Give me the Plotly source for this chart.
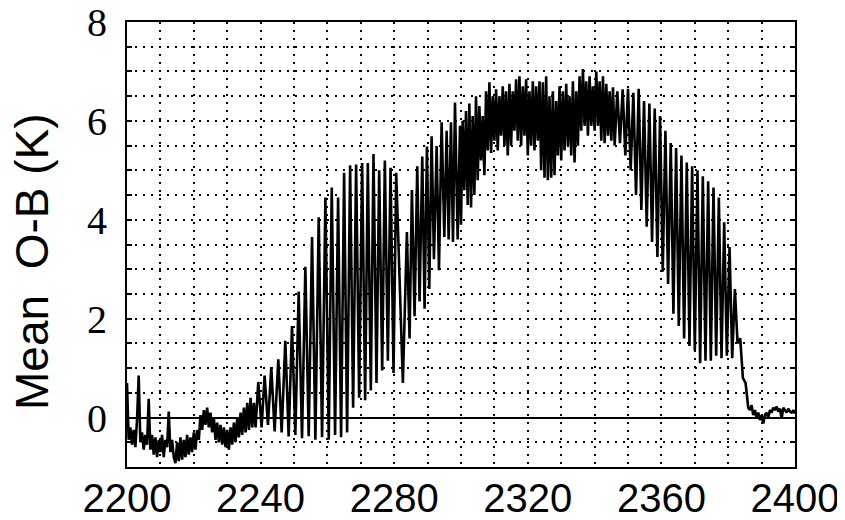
import plotly.graph_objects as go

# ---- data (wavenumber in cm-1, mean O-B in K) ----
# window region, uniform 0.5 cm-1 channels starting at 2200.0
wn_window_start, wn_window_step = 2200.0, 0.5
omb_window = [0.70, -0.45, -0.20, -0.55, -0.25, -0.60, -0.05, 0.85, -0.50, -0.30,
              -0.65, -0.35, -0.55, 0.38, -0.65, -0.35, -0.75, -0.40, -0.80, -0.45,
              -0.70, -0.35, -0.80, -0.45, -0.60, 0.12, -0.70, -0.45, -0.80, -0.92,
              -0.50, -0.88, -0.40, -0.85, -0.45, -0.80, -0.35, -0.75, -0.40, -0.70,
              -0.30, -0.65, -0.25, -0.45, 0.05, -0.25, 0.15, -0.15, 0.20, -0.20,
              0.10, -0.30, 0.00, -0.45, -0.10, -0.50, -0.15, -0.55, -0.20, -0.60,
              -0.25, -0.65, -0.20, -0.55, -0.10, -0.50, 0.00, -0.40, 0.10, -0.35,
              0.20, -0.30, 0.30, -0.25, 0.40, -0.20, 0.30, -0.20]

# line structure (peaks / troughs) 2239-2283
wn_lines1 = [2239.3, 2240.3, 2241.2, 2242.2, 2243.2, 2244.2, 2245.3, 2246.3, 2247.4, 2248.4,
             2249.4, 2250.4, 2251.4, 2252.4, 2253.4, 2254.4, 2255.4, 2256.4, 2257.4, 2258.4,
             2259.4, 2260.4, 2261.3, 2262.3, 2263.2, 2264.1, 2265.0, 2265.9, 2266.8, 2267.7,
             2268.6, 2269.5, 2270.4, 2271.3, 2272.1, 2273.0, 2273.8, 2274.7, 2275.5, 2276.4,
             2277.2, 2278.1, 2278.9, 2279.8, 2280.6, 2282.6]
omb_lines1 = [0.72, -0.20, 0.85, -0.15, 1.02, -0.28, 1.18, -0.30, 1.55, -0.38,
              1.85, -0.35, 2.55, -0.42, 3.05, -0.38, 3.65, -0.45, 4.05, -0.40,
              4.45, -0.45, 4.65, -0.35, 4.45, -0.40, 4.95, -0.30, 5.10, 0.20,
              5.12, 0.40, 5.15, 0.35, 5.15, 0.55, 5.33, 0.70, 5.00, 0.95,
              5.20, 1.15, 5.05, 0.90, 4.95, 0.70]

# line structure 2283-2300
wn_lines2 = [2283.8, 2284.6, 2285.3, 2286.1, 2286.9, 2287.6, 2288.4, 2289.1, 2289.8, 2290.5,
             2291.2, 2291.9, 2292.7, 2293.4, 2294.2, 2295.0, 2295.7, 2296.3, 2297.0, 2297.6,
             2298.2, 2299.0, 2299.7]
omb_lines2 = [3.75, 1.60, 4.60, 2.05, 5.08, 2.35, 5.28, 2.20, 5.48, 2.60,
              5.69, 3.20, 5.49, 2.98, 5.97, 3.65, 5.80, 3.60, 5.97, 3.55,
              6.37, 3.60, 5.90]

# band centre, uniform 0.5 cm-1 channels starting at 2300.0
wn_core_start, wn_core_step = 2300.0, 0.5
omb_core = [3.90, 6.00, 4.60, 6.20, 4.30, 6.35, 4.25, 6.10, 4.50, 6.50,
            4.80, 6.30, 5.20, 6.10, 4.90, 6.60, 5.40, 6.78, 5.35, 6.50,
            5.60, 6.64, 5.40, 6.50, 5.70, 6.70, 5.50, 6.60, 5.30, 6.75,
            5.50, 6.60, 5.80, 6.84, 5.60, 6.90, 5.50, 6.70, 5.70, 6.84,
            5.30, 6.60, 5.50, 6.80, 5.40, 6.70, 5.60, 6.80, 5.00, 6.78,
            4.85, 6.90, 4.80, 6.50, 4.85, 6.60, 4.90, 6.40, 5.30, 6.70,
            5.20, 6.60, 5.40, 6.75, 5.50, 6.50, 5.30, 6.80, 5.16, 6.60,
            5.50, 6.90, 5.80, 7.05, 5.90, 6.80, 5.70, 6.90, 5.90, 6.70,
            5.80, 7.00, 5.90, 6.80, 5.60, 6.90, 5.55, 6.75, 5.70, 6.60,
            5.60, 6.68, 5.50]

# band edge, uniform 0.8 cm-1 channels starting at 2346.8
wn_edge_start, wn_edge_step = 2346.8, 0.8
omb_edge = [6.60, 5.55, 6.64, 5.30, 6.65, 5.00, 6.57, 4.50, 6.65, 4.20,
            6.40, 3.86, 6.35, 3.55, 6.25, 3.25, 6.10, 2.95, 5.80, 2.70,
            5.55, 2.10, 5.45, 1.85, 5.30, 1.60, 5.16, 1.45, 5.08, 1.35,
            5.00, 1.10, 4.88, 1.15, 4.78, 1.15, 4.65, 1.25, 4.45, 1.20,
            3.95, 1.25, 3.45, 1.20, 2.60, 1.50, 1.60, 0.80, 0.70, 0.20]

# tail, uniform 0.5 cm-1 channels starting at 2386.5
wn_tail_start, wn_tail_step = 2386.5, 0.5
omb_tail = [0.15, 0.25, 0.05, 0.15, 0.00, 0.10, -0.05, 0.05, -0.12, 0.05,
            0.10, 0.00, 0.15, 0.10, 0.20, 0.15, 0.22, 0.12, 0.18, -0.02,
            0.20, 0.15, 0.10, 0.18, 0.12, 0.10, 0.15, 0.08]

x_tick_vals = [2200, 2240, 2280, 2320, 2360, 2400]
x_tick_text = ["2200", "2240", "2280", "2320", "2360", "2400"]
y_tick_vals = [0, 2, 4, 6, 8]
y_tick_text = ["0", "2", "4", "6", "8"]
y_title = "Mean\u00a0 O-B (K)"


def grid(start, step, vals):
    return [round(start + step * i, 3) for i in range(len(vals))]


wn = (grid(wn_window_start, wn_window_step, omb_window) + wn_lines1 + wn_lines2
      + grid(wn_core_start, wn_core_step, omb_core)
      + grid(wn_edge_start, wn_edge_step, omb_edge)
      + grid(wn_tail_start, wn_tail_step, omb_tail))
omb = omb_window + omb_lines1 + omb_lines2 + omb_core + omb_edge + omb_tail

fig = go.Figure()
fig.add_trace(go.Scatter(x=wn, y=omb, mode="lines",
                         line=dict(color="black", width=2.6), showlegend=False))

dots = "2px,6px"
fig.update_xaxes(
    range=[2200, 2400], tickmode="array", tickvals=x_tick_vals, ticktext=x_tick_text,
    tickfont=dict(family="Liberation Sans", size=40, color="black"),
    showgrid=True, gridcolor="black", gridwidth=2, griddash=dots,
    minor=dict(dtick=10, tick0=2200, showgrid=True, gridcolor="black", gridwidth=2, griddash=dots),
    showline=True, linecolor="black", linewidth=2, mirror=True,
    ticks="", zeroline=False, automargin=False,
    ticklabeloverflow="allow", ticklabelstandoff=-5,
)
fig.update_yaxes(
    range=[-1, 8], tickmode="array", tickvals=y_tick_vals, ticktext=y_tick_text,
    tickfont=dict(family="Liberation Serif", size=40, color="black"),
    showgrid=True, gridcolor="black", gridwidth=2, griddash=dots,
    minor=dict(dtick=0.5, tick0=0, showgrid=True, gridcolor="black", gridwidth=2,
               griddash=dots, ticks="inside", ticklen=5, tickcolor="black", tickwidth=1.5),
    ticks="inside", ticklen=5, tickcolor="black", tickwidth=1.5,
    showline=True, linecolor="black", linewidth=2, mirror="allticks",
    zeroline=True, zerolinecolor="black", zerolinewidth=2,
    ticklabelstandoff=10, automargin=False, ticklabeloverflow="allow",
)
fig.add_annotation(text=y_title, xref="paper", yref="paper", x=-0.142, y=0.461,
                   xanchor="center", yanchor="middle", textangle=-90, showarrow=False,
                   font=dict(family="Liberation Sans", size=46, color="black"))
# page body adds an 8px offset, so the figure is 8px smaller and margins shifted
fig.update_layout(
    width=837, height=512, margin=dict(l=119, r=50, t=14, b=53),
    plot_bgcolor="white", paper_bgcolor="white",
)
fig.write_html("out.html")
